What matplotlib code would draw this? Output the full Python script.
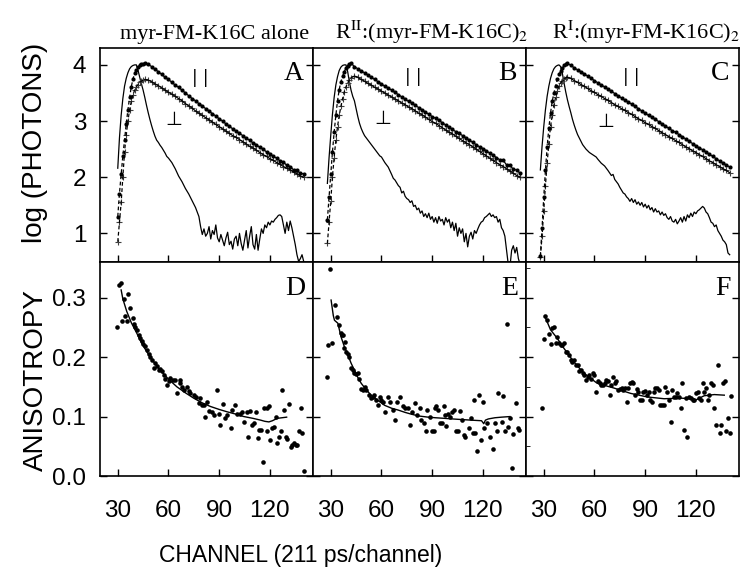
import numpy as np
import matplotlib
matplotlib.use('Agg')
import matplotlib.pyplot as plt
from matplotlib.ticker import MultipleLocator, FormatStrFormatter

plt.rcParams['font.family'] = ['Liberation Sans', 'DejaVu Sans']
plt.rcParams['mathtext.fontset'] = 'stix'

# ---------------- top row: log(photons) vs channel ----------------
# panel A
chan_A = list(range(30, 47)) + list(range(48, 141, 2))
par_A = [1.30, 1.71, 2.05, 2.38, 2.66, 2.95, 3.20, 3.42, 3.61, 3.75, 3.85, 3.91, 3.96, 3.99, 4.01, 4.02, 4.03,
         4.01, 3.97, 3.92, 3.88, 3.83, 3.78, 3.74, 3.69, 3.64, 3.60, 3.55, 3.50, 3.45, 3.40, 3.36, 3.31,
         3.27, 3.22, 3.18, 3.13, 3.09, 3.04, 3.00, 2.95, 2.91, 2.86, 2.82, 2.78, 2.74, 2.69, 2.66, 2.61,
         2.58, 2.53, 2.50, 2.45, 2.42, 2.37, 2.34, 2.29, 2.27, 2.21, 2.19, 2.13, 2.12, 2.07, 2.06]
perp_A = [0.85, 1.20, 1.55, 2.00, 2.45, 2.75, 3.00, 3.20, 3.35, 3.47, 3.55, 3.61, 3.65, 3.69, 3.71, 3.73, 3.74,
          3.73, 3.70, 3.66, 3.63, 3.59, 3.55, 3.51, 3.48, 3.44, 3.40, 3.36, 3.31, 3.27, 3.23, 3.18, 3.14,
          3.10, 3.06, 3.02, 2.98, 2.94, 2.90, 2.86, 2.82, 2.78, 2.74, 2.71, 2.67, 2.63, 2.59, 2.55, 2.52,
          2.48, 2.44, 2.40, 2.37, 2.33, 2.30, 2.26, 2.23, 2.19, 2.16, 2.13, 2.09, 2.06, 2.02, 2.00]
irf_chan_A = list(range(30, 61)) + list(range(62, 79, 2)) + list(range(79, 141))
irf_A = [2.16, 2.70, 3.10, 3.40, 3.62, 3.76, 3.86, 3.93, 3.97, 3.99, 4.00, 4.00, 3.90, 3.78, 3.66, 3.55,
         3.42, 3.28, 3.15, 3.03, 2.92, 2.82, 2.73, 2.66, 2.62, 2.57, 2.53, 2.48, 2.43, 2.37, 2.34,
         2.26, 2.15, 2.02, 1.92, 1.80, 1.70, 1.58, 1.46, 1.30,
         1.12, 0.98, 1.08, 0.95, 1.00, 1.12, 0.90, 1.05, 0.98, 1.15, 0.92, 0.85, 0.98, 0.88, 0.78, 0.92,
         1.02, 0.80, 0.86, 0.72, 0.90, 0.95, 0.78, 1.00, 0.82, 0.70, 0.88, 1.05, 0.74, 0.95, 1.12, 0.80,
         0.72, 0.98, 0.70, 0.90, 1.08, 1.00, 1.15, 1.10, 1.20, 1.15, 1.22, 1.20, 1.25, 1.28, 1.32, 1.33,
         1.30, 1.15, 1.00, 1.20, 1.05, 1.22, 1.10, 0.95, 0.80, 0.62, 0.50, 0.55, 0.62, 0.50]

# panel B
chan_B = list(range(28, 43)) + list(range(44, 143, 2))
par_B = [1.24, 1.65, 2.05, 2.45, 2.80, 3.10, 3.36, 3.56, 3.70, 3.80, 3.88, 3.94, 3.98, 4.02, 4.03,
         3.97, 3.93, 3.89, 3.86, 3.82, 3.78, 3.74, 3.70, 3.66, 3.62, 3.59, 3.55, 3.51, 3.47, 3.43, 3.39,
         3.35, 3.32, 3.28, 3.24, 3.20, 3.16, 3.12, 3.08, 3.05, 3.01, 2.97, 2.93, 2.89, 2.85, 2.81, 2.78,
         2.74, 2.70, 2.66, 2.62, 2.58, 2.54, 2.51, 2.47, 2.43, 2.39, 2.35, 2.31, 2.30, 2.22, 2.21, 2.14,
         2.13, 2.07]
perp_B = [0.82, 1.20, 1.58, 2.01, 2.35, 2.66, 2.90, 3.10, 3.26, 3.40, 3.52, 3.61, 3.68, 3.73, 3.77,
          3.80, 3.78, 3.74, 3.71, 3.67, 3.64, 3.60, 3.57, 3.53, 3.50, 3.46, 3.43, 3.39, 3.36, 3.32, 3.29,
          3.25, 3.22, 3.18, 3.14, 3.11, 3.07, 3.03, 2.99, 2.96, 2.92, 2.88, 2.84, 2.80, 2.77, 2.73, 2.69,
          2.65, 2.61, 2.58, 2.54, 2.50, 2.46, 2.42, 2.38, 2.34, 2.30, 2.26, 2.22, 2.19, 2.15, 2.11, 2.07,
          2.03, 2.00]
irf_chan_B = list(range(28, 61)) + [62, 64, 66] + list(range(67, 143))
irf_B = [1.89, 2.35, 2.75, 3.12, 3.42, 3.64, 3.79, 3.90, 3.96, 3.99, 4.00, 4.00, 3.88, 3.70, 3.55, 3.44,
         3.36, 3.22, 3.08, 2.96, 2.87, 2.80, 2.74, 2.70, 2.66, 2.62, 2.58, 2.54, 2.50, 2.46, 2.42, 2.38, 2.36,
         2.26, 2.18, 2.05,
         1.98, 1.95, 1.90, 1.85, 1.82, 1.72, 1.75, 1.66, 1.62, 1.60, 1.55, 1.58, 1.48, 1.50, 1.42, 1.45,
         1.36, 1.40, 1.30, 1.35, 1.28, 1.36, 1.25, 1.30, 1.20, 1.28, 1.18, 1.30, 1.22, 1.25, 1.15, 1.28,
         1.20, 1.25, 1.10, 1.20, 1.05, 1.18, 0.95, 1.10, 1.00, 1.08, 0.85, 1.00, 0.76, 0.95, 1.02, 0.90,
         1.05, 1.00, 1.08, 1.15, 1.20, 1.22, 1.28, 1.30, 1.33, 1.36, 1.30, 1.33, 1.28, 1.30, 1.20, 1.25,
         1.10, 1.05, 0.95, 0.70, 0.45, 0.40, 0.70, 0.78, 0.65, 0.75, 0.55, 0.45]

# panel C
chan_C = list(range(28, 45)) + list(range(46, 141, 2))
par_C = [0.60, 1.10, 1.65, 2.12, 2.54, 2.87, 3.14, 3.35, 3.50, 3.62, 3.74, 3.83, 3.90, 3.95, 3.99, 4.02, 4.03,
         3.99, 3.95, 3.91, 3.88, 3.84, 3.80, 3.76, 3.72, 3.68, 3.64, 3.61, 3.57, 3.53, 3.49, 3.45, 3.41,
         3.37, 3.34, 3.30, 3.26, 3.22, 3.18, 3.14, 3.10, 3.07, 3.03, 2.99, 2.95, 2.91, 2.87, 2.83, 2.80,
         2.76, 2.72, 2.68, 2.64, 2.60, 2.56, 2.52, 2.49, 2.45, 2.41, 2.37, 2.33, 2.29, 2.25, 2.22, 2.18]
perp_C = [0.58, 0.95, 1.40, 1.85, 2.25, 2.60, 2.90, 3.10, 3.28, 3.42, 3.53, 3.62, 3.68, 3.72, 3.75, 3.77, 3.78,
          3.76, 3.72, 3.69, 3.65, 3.62, 3.58, 3.54, 3.51, 3.47, 3.44, 3.40, 3.37, 3.33, 3.29, 3.26, 3.22,
          3.19, 3.15, 3.12, 3.08, 3.04, 3.01, 2.97, 2.94, 2.90, 2.87, 2.83, 2.79, 2.76, 2.72, 2.69, 2.65,
          2.62, 2.58, 2.54, 2.51, 2.47, 2.44, 2.40, 2.37, 2.33, 2.29, 2.26, 2.22, 2.19, 2.15, 2.12, 2.08]
irf_chan_C = list(range(28, 63)) + [64, 66, 68, 70] + list(range(71, 141))
irf_C = [2.13, 2.55, 2.90, 3.20, 3.44, 3.62, 3.76, 3.86, 3.93, 3.97, 3.99, 4.00, 3.97, 3.85, 3.68, 3.52,
         3.38, 3.26, 3.15, 3.03, 2.93, 2.84, 2.76, 2.70, 2.64, 2.58, 2.54, 2.50, 2.47, 2.44, 2.42, 2.40,
         2.38, 2.36, 2.32,
         2.25, 2.20, 2.12, 2.03,
         2.05, 1.96, 1.92, 1.88, 1.82, 1.77, 1.72, 1.70, 1.65, 1.62, 1.57, 1.62, 1.55, 1.60, 1.52, 1.56,
         1.50, 1.55, 1.47, 1.52, 1.45, 1.50, 1.42, 1.46, 1.38, 1.44, 1.38, 1.40, 1.33, 1.38, 1.32, 1.35,
         1.28, 1.25, 1.30, 1.22, 1.20, 1.25, 1.17, 1.22, 1.28, 1.20, 1.30, 1.22, 1.33, 1.28, 1.36, 1.30,
         1.38, 1.35, 1.40, 1.42, 1.45, 1.48, 1.45, 1.38, 1.35, 1.28, 1.20, 1.18, 1.12, 1.15, 1.05, 1.00,
         0.95, 0.88, 0.85, 0.80, 0.65, 0.62]

# ---------------- bottom row: anisotropy vs channel ----------------
chan_D = [29.8, 31.0, 32.0, 32.6, 33.4, 34.5, 35.3, 36.3, 37.3, 38.9, 40.3, 42.3, 44.2, 46.2, 48.2, 50.2,
          51.2, 52.2, 54.1, 56.1, 58.1, 59.1, 61.1, 64.0, 65.0, 66.6, 67.0, 69.0, 70.9, 72.9, 74.9, 77.9,
          78.9, 79.8, 81.8, 82.8, 85.8, 86.8, 88.7, 89.7, 90.7, 92.1, 93.7, 94.7, 96.7, 97.6, 99.6, 100.6,
          102.6, 103.6, 104.6, 106.2, 107.1, 108.1, 109.5, 110.5, 111.5, 112.9, 113.5, 114.5, 115.8, 116.8,
          118.0, 118.4, 119.4, 120.0, 121.4, 122.4, 123.4, 124.3, 125.3, 126.3, 127.3, 128.3, 129.3, 130.3,
          131.3, 132.3, 133.2, 134.2, 135.2, 136.2, 137.2, 138.2, 139.2, 140.2,
          39.5, 41.3, 43.2, 45.2, 47.2, 49.2, 53.1, 55.1, 57.1, 60.1, 62.5, 68.0, 71.9, 76.0, 80.8, 84.0]
aniso_D = [0.251, 0.322, 0.324, 0.260, 0.297, 0.269, 0.260, 0.306, 0.283, 0.265, 0.251, 0.238, 0.227, 0.218,
           0.205, 0.195, 0.182, 0.190, 0.178, 0.176, 0.164, 0.153, 0.165, 0.161, 0.139, 0.161, 0.156, 0.145,
           0.150, 0.139, 0.136, 0.122, 0.131, 0.119, 0.100, 0.125, 0.108, 0.103, 0.145, 0.105, 0.086, 0.121,
           0.097, 0.103, 0.081, 0.111, 0.119, 0.104, 0.105, 0.108, 0.091, 0.108, 0.066, 0.109, 0.086, 0.089,
           0.107, 0.064, 0.077, 0.077, 0.024, 0.115, 0.075, 0.115, 0.117, 0.061, 0.080, 0.083, 0.100, 0.055,
           0.066, 0.076, 0.145, 0.111, 0.066, 0.063, 0.121, 0.048, 0.052, 0.055, 0.052, 0.053, 0.075, 0.114,
           0.072, 0.008,
           0.255, 0.245, 0.232, 0.222, 0.212, 0.200, 0.185, 0.180, 0.170, 0.160, 0.162, 0.150, 0.143, 0.133,
           0.120, 0.110]
fit_chan_D = [32.0, 33.0, 35.3, 38.0, 41.3, 44.0, 47.2, 51.0, 55.1, 60.0, 65.0, 70.0, 74.9, 80.0, 84.8,
              90.0, 94.7, 100.0, 104.6, 110.0, 114.5, 117.0, 119.4, 121.5, 124.3, 129.9]
fit_D = [0.313, 0.298, 0.277, 0.258, 0.240, 0.224, 0.209, 0.193, 0.178, 0.163, 0.150, 0.140, 0.131, 0.123,
         0.117, 0.112, 0.108, 0.104, 0.100, 0.097, 0.094, 0.092, 0.091, 0.093, 0.097, 0.099]

chan_E = [27.6, 28.6, 29.8, 30.8, 32.6, 33.8, 35.1, 36.1, 37.1, 38.1, 39.1, 40.1, 42.1, 43.1, 44.0, 46.0,
          47.0, 48.0, 49.0, 51.0, 52.9, 53.9, 54.9, 56.9, 57.9, 58.9, 60.9, 61.8, 63.8, 64.8, 66.8, 67.8,
          69.4, 70.7, 72.7, 73.7, 75.7, 77.1, 78.3, 80.0, 81.2, 82.6, 83.6, 85.2, 86.2, 87.2, 88.5, 89.9,
          91.1, 91.9, 92.5, 93.5, 94.5, 95.9, 96.7, 97.5, 98.4, 99.4, 100.4, 101.8, 103.0, 103.8, 105.4,
          106.7, 107.7, 108.9, 109.7, 111.7, 112.9, 113.9, 114.9, 115.6, 116.8, 117.8, 118.8, 120.0, 120.8,
          122.2, 124.2, 125.7, 127.1, 128.1, 129.1, 131.1, 132.1, 133.1, 134.0, 135.0, 136.0, 137.0, 138.0,
          139.4, 140.6, 141.6,
          36.6, 38.5, 41.0, 45.0, 50.0, 55.5, 59.5]
aniso_E = [0.167, 0.220, 0.349, 0.223, 0.288, 0.268, 0.254, 0.240, 0.237, 0.215, 0.209, 0.206, 0.181, 0.178,
           0.173, 0.173, 0.164, 0.147, 0.145, 0.145, 0.136, 0.131, 0.133, 0.128, 0.119, 0.133, 0.125, 0.108,
           0.133, 0.125, 0.111, 0.094, 0.125, 0.133, 0.117, 0.114, 0.114, 0.086, 0.108, 0.122, 0.103, 0.114,
           0.094, 0.089, 0.076, 0.111, 0.100, 0.076, 0.076, 0.114, 0.117, 0.111, 0.089, 0.089, 0.117, 0.103,
           0.084, 0.105, 0.100, 0.108, 0.111, 0.075, 0.075, 0.109, 0.094, 0.069, 0.066, 0.080, 0.097, 0.072,
           0.128, 0.072, 0.042, 0.136, 0.061, 0.125, 0.080, 0.089, 0.066, 0.045, 0.089, 0.076, 0.139, 0.091,
           0.135, 0.075, 0.256, 0.083, 0.098, 0.014, 0.071, 0.122, 0.080, 0.077,
           0.238, 0.225, 0.200, 0.172, 0.150, 0.137, 0.128]
fit_chan_E = [30.2, 31.5, 32.2, 34.2, 36.1, 38.0, 40.1, 42.0, 44.0, 46.0, 48.0, 51.0, 53.9, 58.0, 61.8, 66.0,
              69.8, 74.0, 77.7, 82.0, 87.6, 92.0, 97.4, 102.0, 107.3, 113.0, 119.2, 120.5, 121.5, 123.2,
              127.1, 131.0, 136.0]
fit_E = [0.296, 0.270, 0.262, 0.257, 0.234, 0.218, 0.204, 0.190, 0.178, 0.166, 0.156, 0.145, 0.136, 0.127,
         0.119, 0.114, 0.111, 0.107, 0.104, 0.101, 0.099, 0.098, 0.097, 0.096, 0.095, 0.094, 0.093, 0.088,
         0.094, 0.096, 0.098, 0.099, 0.100]

chan_F = list(range(29, 142))
aniso_F = [0.114, 0.230, 0.269,
           0.262, 0.239, 0.222, 0.249, 0.250, 0.223, 0.234, 0.223, 0.220, 0.220, 0.223, 0.209, 0.209, 0.204,
           0.195, 0.192, 0.195, 0.187, 0.187, 0.176, 0.178, 0.173, 0.170, 0.162, 0.167, 0.170, 0.164, 0.173,
           0.170, 0.142, 0.159, 0.156, 0.153, 0.153, 0.156, 0.162, 0.159, 0.136, 0.153, 0.167, 0.156, 0.159,
           0.145, 0.147, 0.148, 0.145, 0.148, 0.125, 0.148, 0.156, 0.158, 0.156, 0.137, 0.147, 0.141, 0.128,
           0.128, 0.141, 0.143, 0.137, 0.141, 0.128, 0.124, 0.142, 0.148, 0.148, 0.145, 0.119, 0.119, 0.119,
           0.150, 0.142, 0.128, 0.091, 0.145, 0.133, 0.133, 0.139, 0.133, 0.114, 0.156, 0.077, 0.131, 0.066,
           0.133, 0.131, 0.128, 0.128, 0.139, 0.142, 0.131, 0.128, 0.156, 0.142, 0.148, 0.128, 0.136, 0.156,
           0.153, 0.114, 0.086, 0.186, 0.072, 0.086, 0.156, 0.159,
           0.076, 0.098, 0.072, 0.135]
fit_chan_F = [30.6, 34.0, 37.9, 41.9, 47.8, 53.7, 61.6, 71.5, 81.4, 91.3, 101.2, 111.1, 117.0, 120.0,
              124.9, 130.9, 136.8]
fit_F = [0.269, 0.246, 0.232, 0.215, 0.192, 0.173, 0.156, 0.148, 0.139, 0.133, 0.130, 0.131, 0.130, 0.128,
         0.135, 0.137, 0.136]

titles = ['myr-FM-K16C alone',
          r'R$^{\mathrm{II}}$:(myr-FM-K16C)$_{2}$',
          r'R$^{\mathrm{I}}$:(myr-FM-K16C)$_{2}$']
title_x = [0.54, 0.555, 0.565]
top_letters = ['A', 'B', 'C']
bottom_letters = ['D', 'E', 'F']
par_pos = [(79, 3.76), (79, 3.78), (81.5, 3.79)]
perp_pos = [(63, 3.03), (61, 3.05), (66.5, 3.00)]

top_data = [(chan_A, par_A, perp_A, irf_chan_A, irf_A, 46),
            (chan_B, par_B, perp_B, irf_chan_B, irf_B, 42),
            (chan_C, par_C, perp_C, irf_chan_C, irf_C, 44)]
bottom_data = [(chan_D, aniso_D, fit_chan_D, fit_D),
               (chan_E, aniso_E, fit_chan_E, fit_E),
               (chan_F, aniso_F, fit_chan_F, fit_F)]

fig, axes = plt.subplots(2, 3, figsize=(7.56, 5.76), dpi=100)
fig.subplots_adjust(left=0.1323, right=0.9775, bottom=0.1736, top=0.9166, wspace=0, hspace=0)

for i in range(3):
    ax = axes[0, i]
    chan, par, perp, ichan, irf, peak = top_data[i]
    chan = np.array(chan)
    par = np.array(par)
    perp = np.array(perp)
    rise = chan <= peak
    decay = chan >= peak
    ax.plot(ichan, irf, '-', color='k', lw=0.9)
    ax.plot(chan, perp, '+', color='0.25', ms=5, mew=0.8)
    ax.plot(chan, par, 'o', color='k', ms=3.0, mew=0)
    for y in (par, perp):
        ax.plot(chan[rise], y[rise], '--', color='k', lw=0.9, dashes=(3, 2))
        ax.plot(chan[decay], y[decay], '-', color='k', lw=0.9)
    ax.set_ylim(0.49, 4.30)
    ax.set_yticks([1, 2, 3, 4])
    ax.text(*par_pos[i], '| |', ha='center', va='center', fontsize=12, family='DejaVu Sans')
    ax.text(*perp_pos[i], '\u22a5', ha='center', va='center', fontsize=14, family='DejaVu Sans')
    ax.text(0.955, 0.85, top_letters[i], transform=ax.transAxes, ha='right', va='baseline',
            fontsize=20, family='Liberation Serif')
    ax.text(title_x[i], 1.042, titles[i], transform=ax.transAxes, ha='center', va='baseline',
            fontsize=16, family='Liberation Serif')

for i in range(3):
    ax = axes[1, i]
    chan, aniso, fchan, fit = bottom_data[i]
    ax.plot(chan, aniso, 'o', color='k', ms=3.3, mew=0)
    ax.plot(fchan, fit, '-', color='k', lw=1.0)
    ax.set_ylim(0, 0.36)
    ax.set_yticks([0.0, 0.1, 0.2, 0.3])
    ax.yaxis.set_major_formatter(FormatStrFormatter('%.1f'))
    ax.text(0.962, 0.846, bottom_letters[i], transform=ax.transAxes, ha='right', va='baseline',
            fontsize=20, family='Liberation Serif')

for ax in axes.flat:
    ax.set_xlim(19.5, 145.5)
    ax.set_xticks([30, 60, 90, 120])
    ax.tick_params(direction='in', length=5, width=1, labelsize=17.5, left=True, right=True,
                   top=False, bottom=True)
    ax.tick_params(axis='y', pad=10)
    ax.tick_params(axis='x', pad=17)
    for s in ax.spines.values():
        s.set_linewidth(1.2)

for i in range(3):
    axes[0, i].tick_params(labelbottom=False)
    if i > 0:
        axes[0, i].tick_params(labelleft=False)
        axes[1, i].tick_params(labelleft=False)

axes[1, 2].yaxis.set_minor_locator(MultipleLocator(0.05))
axes[1, 2].tick_params(which='minor', direction='in', length=3, left=True, right=False, bottom=False)

fig.text(0.0556, 0.752, 'log (PHOTONS)', rotation=90, rotation_mode='anchor',
         ha='center', va='baseline', fontsize=20)
fig.text(0.057, 0.34, 'ANISOTROPY', rotation=90, rotation_mode='anchor',
         ha='center', va='baseline', fontsize=20)
fig.text(0.397, 0.0243, 'CHANNEL (211 ps/channel)', ha='center', va='baseline', fontsize=16.5)

plt.savefig('out.png', dpi=100)
